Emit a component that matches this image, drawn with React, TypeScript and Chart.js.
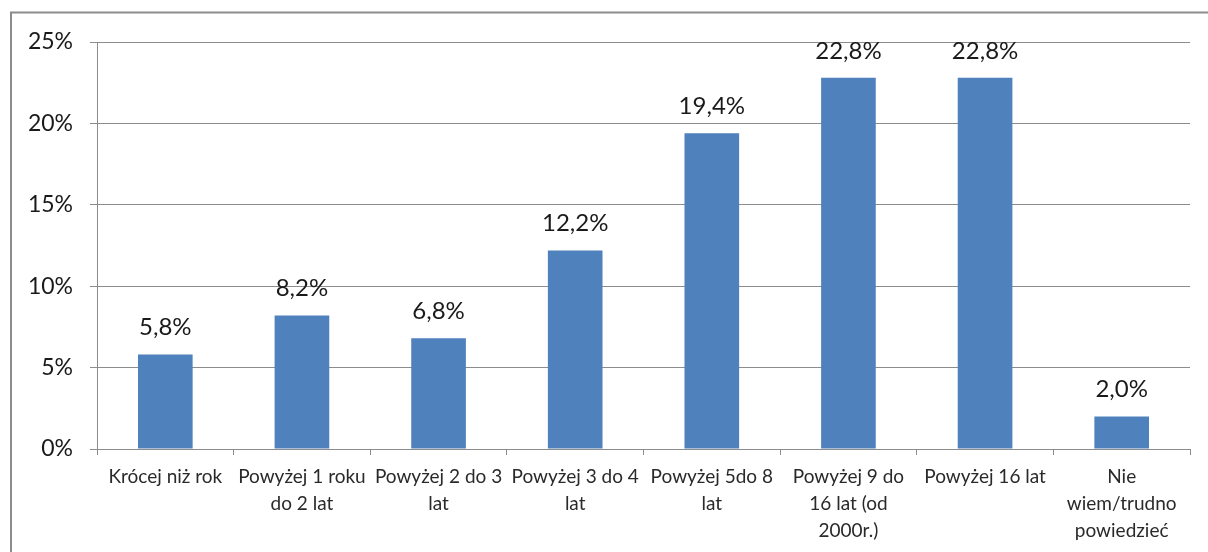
import React, { useEffect, useRef } from "react";
import { Chart, registerables } from "chart.js";

Chart.register(...registerables);

const categories: (string | string[])[] = [
  "Krócej niż rok",
  ["Powyżej 1 roku", "do 2 lat"],
  ["Powyżej 2 do 3", "lat"],
  ["Powyżej 3 do 4", "lat"],
  ["Powyżej 5do 8", "lat"],
  ["Powyżej 9 do", "16 lat (od", "2000r.)"],
  "Powyżej 16 lat",
  ["Nie", "wiem/trudno", "powiedzieć"],
];
const values: number[] = [5.8, 8.2, 6.8, 12.2, 19.4, 22.8, 22.8, 2.0];
const yTicks: number[] = [0, 5, 10, 15, 20, 25];

const FONT = "Lato, 'Open Sans', sans-serif";

const frameAndLabels = {
  id: "frameAndLabels",
  beforeDraw(chart: any) {
    const ctx = chart.ctx;
    ctx.save();
    ctx.fillStyle = "#ffffff";
    ctx.fillRect(0, 0, chart.width, chart.height);
    ctx.strokeStyle = "#8c8c8c";
    ctx.lineWidth = 2;
    ctx.strokeRect(11, 12.5, chart.width + 20, chart.height + 20);
    ctx.restore();
  },
  afterDatasetsDraw(chart: any) {
    const ctx = chart.ctx;
    const meta = chart.getDatasetMeta(0);
    ctx.save();
    ctx.font = `24px ${FONT}`;
    ctx.fillStyle = "#1a1a1a";
    ctx.textAlign = "center";
    ctx.textBaseline = "middle";
    meta.data.forEach((bar: any, i: number) => {
      const v = values[i];
      ctx.fillText(v.toFixed(1).replace(".", ",") + "%", bar.x, bar.y - 27);
    });
    ctx.restore();
  },
};

export default function App() {
  const ref = useRef<HTMLCanvasElement | null>(null);
  useEffect(() => {
    if (!ref.current) return;
    const chart = new Chart(ref.current, {
      type: "bar",
      data: {
        labels: categories,
        datasets: [
          {
            data: values,
            backgroundColor: "#4f81bd",
            borderWidth: 0,
            barPercentage: 0.8,
            categoryPercentage: 0.5,
          },
        ],
      },
      plugins: [frameAndLabels],
      options: {
        responsive: false,
        animation: false,
        layout: { padding: { left: 20, top: 42, right: 18, bottom: 0 } },
        plugins: { legend: { display: false }, tooltip: { enabled: false } },
        scales: {
          x: {
            grid: {
              offset: true,
              drawOnChartArea: false,
              drawTicks: true,
              tickLength: 6,
              color: "#8c8c8c",
            },
            border: { color: "#8c8c8c", width: 1 },
            ticks: {
              maxRotation: 0,
              autoSkip: false,
              color: "#2a2a2a",
              padding: 8,
              font: { family: FONT, size: 19, lineHeight: 1.43 },
            },
            afterFit(scale: any) {
              scale.height = 103;
            },
          },
          y: {
            min: 0,
            max: 25,
            afterBuildTicks(scale: any) {
              scale.ticks = yTicks.map((v) => ({ value: v }));
            },
            grid: { color: "#8c8c8c", drawTicks: true, tickLength: 7 },
            border: { color: "#8c8c8c", width: 1 },
            ticks: {
              color: "#1a1a1a",
              padding: 17,
              font: { family: FONT, size: 23 },
              callback: (v: any) => `${v}%`,
            },
            afterFit(scale: any) {
              scale.width = 77;
            },
          },
        },
      },
    });
    return () => chart.destroy();
  }, []);
  return (
    <div style={{ position: "fixed", left: 0, top: 0, width: 1208, height: 552, background: "#fff" }}>
      <canvas ref={ref} width={1208} height={552} style={{ display: "block" }} />
    </div>
  );
}
